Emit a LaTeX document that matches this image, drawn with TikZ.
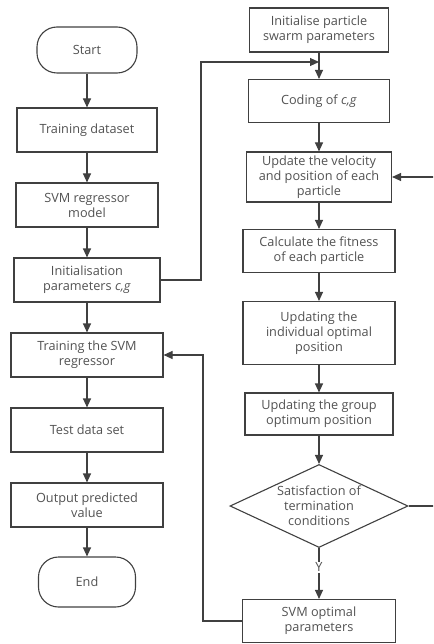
\documentclass[tikz,border=0pt]{standalone}
\usepackage{fontspec}
\setmainfont{Open Sans}
\usetikzlibrary{arrows.meta,shapes.geometric}

\begin{document}
\begin{tikzpicture}[x=1pt, y=-1pt, font=\fontsize{12.7}{15}\selectfont,
    box/.style={draw=black!75, line width=1.1pt, text=black!68, align=center,
        inner sep=1pt, minimum height=44pt},
    term/.style={box, rounded corners=20pt},
    cond/.style={box, shape=diamond, aspect=2.14, inner sep=0pt},
    arr/.style={-{Triangle[length=9pt,width=8pt]}, draw=black!75, line width=1.1pt},
    link/.style={draw=black!75, line width=1.1pt}]
    % Page frame, the loop on the right runs past it
    \useasboundingbox (0,0) rectangle (433,644);
    \clip (0,0) rectangle (433,644);

    % Left column: main SVM flow
    \node[term, minimum width=100pt, minimum height=46pt] (start) at (87,50) {Start};
    \node[box, minimum width=140pt] (trainset) at (87,130) {Training dataset};
    \node[box, minimum width=142pt] (svmmodel) at (87,205) {SVM regressor\\model};
    \node[box, minimum width=146pt] (initpar) at (87,280) {Initialisation\\parameters \textit{c,g}};
    \node[box, minimum width=152pt] (trainsvm) at (87,355) {Training the SVM\\regressor};
    \node[box, minimum width=152pt] (testset) at (87,430) {Test data set};
    \node[box, minimum width=152pt] (output) at (87,505) {Output predicted\\value};
    \node[term, minimum width=97pt, minimum height=50pt] (end) at (87,582) {End};

    % Right column: particle swarm search
    \node[box, minimum width=139pt] (initpso) at (319,30) {Initialise particle\\swarm parameters};
    \node[box, minimum width=141pt, minimum height=43pt] (coding) at (319,101) {Coding of \textit{c,g}};
    \node[box, minimum width=145pt, minimum height=50pt] (update) at (319,177) {Update the velocity\\and position of each\\particle};
    \node[box, minimum width=152pt, minimum height=43pt] (fitness) at (319,251) {Calculate the fitness\\of each particle};
    \node[box, minimum width=152pt, minimum height=63pt] (pbest) at (319,333) {Updating the\\individual optimal\\position};
    \node[box, minimum width=148pt, minimum height=42pt] (gbest) at (319,414) {Updating the group\\optimum position};
    \node[cond, minimum width=178pt, minimum height=83pt] (stop) at (319,506) {Satisfaction of\\termination\\conditions};
    \node[box, minimum width=153pt, minimum height=43pt] (best) at (319,621) {SVM optimal\\parameters};

    % Bends of the connectors
    \coordinate (join) at (319,62);
    \coordinate (bendA) at (201,62);
    \coordinate (bendB) at (442,506);
    \coordinate (bendC) at (203,621);

    % Main flow
    \draw[arr] (start) -- (trainset);
    \draw[arr] (trainset) -- (svmmodel);
    \draw[arr] (svmmodel) -- (initpar);
    \draw[arr] (initpar) -- (trainsvm);
    \draw[arr] (trainsvm) -- (testset);
    \draw[arr] (testset) -- (output);
    \draw[arr] (output) -- (end);

    % Hand c,g over to the swarm
    \draw[arr] (initpar.east) -| (bendA) -- (join);

    % Swarm flow
    \draw[arr] (initpso) -- (coding);
    \draw[arr] (coding) -- (update);
    \draw[arr] (update) -- (fitness);
    \draw[arr] (fitness) -- (pbest);
    \draw[arr] (pbest) -- (gbest);
    \draw[arr] (gbest) -- (stop);
    \draw[arr] (stop) -- node[pos=0.38, fill=white, text=black!68, inner sep=1pt] {Y} (best);

    % Not satisfied: back to the update step
    \draw[arr] (stop.east) -- (bendB) |- (update.east);

    % Optimal c,g back to training
    \draw[arr] (best.west) -- (bendC) |- (trainsvm.east);
\end{tikzpicture}
\end{document}
